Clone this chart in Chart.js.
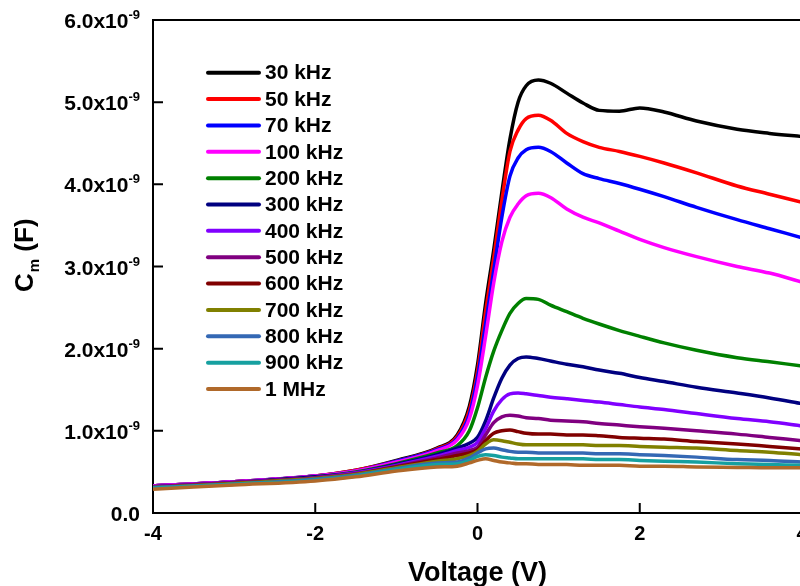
<!DOCTYPE html>
<html>
<head>
<meta charset="utf-8">
<script src="https://cdn.jsdelivr.net/npm/chart.js@4/dist/chart.umd.min.js"></script>
<style>
  body { margin: 0; overflow: hidden; background: #fff; }
  canvas { display: block; }
</style>
</head>
<body>
<canvas id="cv" width="830" height="586"></canvas>
<script>
// voltage (V) and capacitance values in units of 1e-9 F
const voltage = [-4, -3, -2, -1.5, -1, -0.5, -0.25, -0.1, 0, 0.1, 0.2, 0.3, 0.4, 0.5, 0.6, 0.75, 0.9, 1.1, 1.3, 1.5, 1.75, 2, 2.3, 2.7, 3.2, 3.6, 4];

const c30k  = [0.33, 0.38, 0.45, 0.52, 0.64, 0.79, 0.95, 1.30, 1.80, 2.55, 3.20, 3.90, 4.55, 5.00, 5.20, 5.27, 5.23, 5.11, 4.99, 4.90, 4.89, 4.93, 4.88, 4.77, 4.67, 4.62, 4.58];
const c50k  = [0.33, 0.38, 0.45, 0.52, 0.63, 0.78, 0.93, 1.25, 1.72, 2.45, 3.10, 3.80, 4.40, 4.66, 4.80, 4.84, 4.78, 4.62, 4.52, 4.45, 4.40, 4.34, 4.26, 4.14, 3.98, 3.88, 3.78];
const c70k  = [0.33, 0.38, 0.45, 0.51, 0.63, 0.77, 0.91, 1.20, 1.65, 2.30, 2.95, 3.60, 4.10, 4.32, 4.42, 4.45, 4.40, 4.26, 4.13, 4.07, 4.01, 3.94, 3.85, 3.72, 3.57, 3.46, 3.35];
const c100k = [0.33, 0.38, 0.45, 0.51, 0.62, 0.76, 0.89, 1.15, 1.55, 2.15, 2.80, 3.30, 3.60, 3.76, 3.86, 3.89, 3.84, 3.70, 3.60, 3.53, 3.43, 3.33, 3.23, 3.12, 3.00, 2.92, 2.81];
const c200k = [0.32, 0.37, 0.44, 0.50, 0.60, 0.73, 0.82, 1.00, 1.28, 1.65, 1.97, 2.22, 2.43, 2.55, 2.61, 2.60, 2.53, 2.45, 2.37, 2.30, 2.22, 2.15, 2.07, 1.98, 1.89, 1.84, 1.79];
const c300k = [0.32, 0.37, 0.44, 0.49, 0.59, 0.71, 0.79, 0.85, 0.92, 1.12, 1.40, 1.64, 1.80, 1.88, 1.90, 1.88, 1.85, 1.81, 1.78, 1.74, 1.70, 1.65, 1.60, 1.53, 1.46, 1.40, 1.33];
const c400k = [0.32, 0.37, 0.43, 0.49, 0.58, 0.69, 0.76, 0.80, 0.86, 1.03, 1.24, 1.38, 1.45, 1.46, 1.45, 1.43, 1.41, 1.39, 1.37, 1.35, 1.32, 1.29, 1.26, 1.21, 1.15, 1.11, 1.06];
const c500k = [0.32, 0.37, 0.43, 0.48, 0.57, 0.67, 0.73, 0.76, 0.80, 0.95, 1.10, 1.17, 1.19, 1.18, 1.16, 1.15, 1.13, 1.12, 1.11, 1.09, 1.07, 1.05, 1.03, 1.00, 0.96, 0.92, 0.88];
const c600k = [0.31, 0.36, 0.42, 0.47, 0.56, 0.65, 0.70, 0.73, 0.77, 0.88, 0.97, 1.00, 1.01, 0.99, 0.97, 0.96, 0.96, 0.95, 0.95, 0.94, 0.92, 0.91, 0.90, 0.87, 0.84, 0.81, 0.78];
const c700k = [0.31, 0.36, 0.42, 0.47, 0.55, 0.63, 0.66, 0.70, 0.75, 0.84, 0.89, 0.88, 0.86, 0.84, 0.83, 0.83, 0.83, 0.83, 0.83, 0.82, 0.82, 0.81, 0.80, 0.79, 0.76, 0.74, 0.71];
const c800k = [0.31, 0.35, 0.41, 0.46, 0.54, 0.61, 0.62, 0.67, 0.73, 0.78, 0.79, 0.77, 0.75, 0.74, 0.74, 0.73, 0.73, 0.73, 0.73, 0.72, 0.72, 0.71, 0.70, 0.68, 0.65, 0.64, 0.62];
const c900k = [0.30, 0.35, 0.40, 0.45, 0.53, 0.59, 0.60, 0.64, 0.69, 0.71, 0.70, 0.68, 0.67, 0.66, 0.66, 0.66, 0.66, 0.66, 0.66, 0.65, 0.65, 0.64, 0.63, 0.62, 0.60, 0.59, 0.58];
const c1M   = [0.29, 0.34, 0.39, 0.44, 0.51, 0.56, 0.57, 0.61, 0.64, 0.66, 0.64, 0.62, 0.61, 0.60, 0.60, 0.59, 0.59, 0.59, 0.58, 0.58, 0.58, 0.57, 0.57, 0.56, 0.555, 0.55, 0.55];

const seriesNames = ['30 kHz', '50 kHz', '70 kHz', '100 kHz', '200 kHz', '300 kHz', '400 kHz', '500 kHz', '600 kHz', '700 kHz', '800 kHz', '900 kHz', '1 MHz'];
const seriesValues = [c30k, c50k, c70k, c100k, c200k, c300k, c400k, c500k, c600k, c700k, c800k, c900k, c1M];
const seriesColors = ['#000000', '#ff0000', '#0000ff', '#ff00ff', '#008000', '#000080', '#8000ff', '#800080', '#800000', '#808000', '#3468b4', '#16a0a0', '#b0692a'];

const xTicks = [-4, -2, 0, 2, 4];
const yTicks = [0, 1, 2, 3, 4, 5, 6];

const FONT = '"Liberation Sans", Arial, sans-serif';

const datasets = seriesValues.map((vals, i) => ({
  label: seriesNames[i],
  data: voltage.map((v, j) => ({ x: v, y: vals[j] })),
  borderColor: seriesColors[i],
  borderWidth: 3.5,
  pointRadius: 0,
  cubicInterpolationMode: 'monotone',
  order: seriesValues.length - i
}));

// frame, inward ticks, y labels with exponents, y title, legend
const decorations = {
  id: 'decorations',
  afterDraw(chart) {
    const ctx = chart.ctx;
    const a = chart.chartArea;
    const xs = chart.scales.x;
    const ys = chart.scales.y;
    ctx.save();
    ctx.strokeStyle = '#000';
    ctx.lineWidth = 2;
    ctx.beginPath();
    ctx.moveTo(a.left, a.top); ctx.lineTo(a.right, a.top); ctx.lineTo(a.right, a.bottom);
    xTicks.forEach(v => {
      const px = xs.getPixelForValue(v);
      ctx.moveTo(px, a.bottom); ctx.lineTo(px, a.bottom - 10);
    });
    yTicks.forEach(v => {
      const py = ys.getPixelForValue(v);
      ctx.moveTo(a.left, py); ctx.lineTo(a.left + 10, py);
    });
    ctx.stroke();

    // y tick labels
    ctx.fillStyle = '#000';
    ctx.textBaseline = 'alphabetic';
    ctx.textAlign = 'right';
    yTicks.forEach(v => {
      const py = ys.getPixelForValue(v);
      const right = 140;
      if (v === 0) {
        ctx.font = 'bold 21px ' + FONT;
        ctx.fillText('0.0', right, py + 8);
        return;
      }
      ctx.font = 'bold 13px ' + FONT;
      const sup = '-9';
      const sw = ctx.measureText(sup).width;
      ctx.fillText(sup, right, py - 1);
      ctx.font = 'bold 21px ' + FONT;
      ctx.fillText(v.toFixed(1) + 'x10', right - sw, py + 8);
    });

    // y title: C_m (F)
    ctx.translate(33, 292);
    ctx.rotate(-Math.PI / 2);
    ctx.textAlign = 'left';
    ctx.font = 'bold 26px ' + FONT;
    ctx.fillText('C', 0, 0);
    let w = ctx.measureText('C').width;
    ctx.font = 'bold 15px ' + FONT;
    ctx.fillText('m', w + 1, 6);
    w += 1 + ctx.measureText('m').width;
    ctx.font = 'bold 26px ' + FONT;
    ctx.fillText(' (F)', w, 0);
    ctx.restore();

    // legend
    ctx.save();
    ctx.textBaseline = 'middle';
    ctx.textAlign = 'left';
    ctx.font = 'bold 21px ' + FONT;
    seriesNames.forEach((name, i) => {
      const y = 72.7 + i * 26.36;
      ctx.strokeStyle = seriesColors[i];
      ctx.lineWidth = 4;
      ctx.lineCap = 'round';
      ctx.beginPath();
      ctx.moveTo(208, y); ctx.lineTo(259, y);
      ctx.stroke();
      ctx.fillStyle = '#000';
      ctx.fillText(name, 265, y + 1);
    });
    ctx.restore();
  }
};

new Chart(document.getElementById('cv'), {
  type: 'line',
  data: { datasets: datasets },
  options: {
    responsive: false,
    animation: false,
    layout: { padding: { top: 20, right: 28, left: 0, bottom: 0 } },
    plugins: { legend: { display: false }, tooltip: { enabled: false } },
    scales: {
      x: {
        type: 'linear',
        min: -4, max: 4,
        afterBuildTicks: s => { s.ticks = xTicks.map(v => ({ value: v })); },
        afterFit: s => { s.height = 73; },
        grid: { display: false, drawTicks: false },
        border: { display: true, color: '#000', width: 2 },
        ticks: { color: '#000', padding: 9, font: { family: FONT, size: 20, weight: 'bold' } },
        title: { display: true, text: 'Voltage (V)', color: '#000', padding: { top: 0, bottom: -4 }, font: { family: FONT, size: 27, weight: 'bold' } }
      },
      y: {
        type: 'linear',
        min: 0, max: 6,
        afterFit: s => { s.width = 153; },
        grid: { display: false, drawTicks: false },
        border: { display: true, color: '#000', width: 2 },
        ticks: { display: false, stepSize: 1 }
      }
    }
  },
  plugins: [decorations]
});
</script>
</body>
</html>
